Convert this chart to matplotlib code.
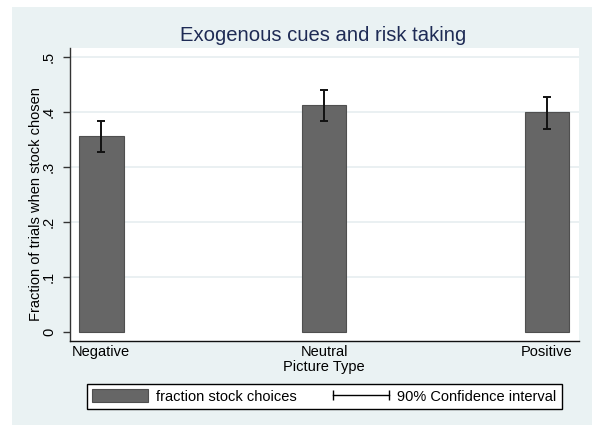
import matplotlib
matplotlib.use("Agg")
import matplotlib.pyplot as plt
from matplotlib.patches import Rectangle, Patch
from matplotlib.lines import Line2D
from matplotlib.legend_handler import HandlerLine2D

categories = ["Negative", "Neutral", "Positive"]
fraction_stock = [0.356, 0.4126, 0.4004]
ci_low = [0.328, 0.384, 0.370]
ci_high = [0.385, 0.4405, 0.428]
yticks = [0, 0.1, 0.2, 0.3, 0.4, 0.5]
ytick_labels = ["0", ".1", ".2", ".3", ".4", ".5"]

plt.rcParams['font.family'] = ['Liberation Sans', 'DejaVu Sans']

W, H = 592, 425
fig = plt.figure(figsize=(W / 100, H / 100), dpi=100, facecolor="white")
panel_color = "#EAF2F3"
fig.patches.append(Rectangle((12 / W, 0), 1 - 12 / W, 1 - 7 / H,
                             transform=fig.transFigure, facecolor=panel_color,
                             edgecolor="none", zorder=-10))

ax = fig.add_axes([70 / W, 1 - 341 / H, (579 - 70) / W, (341 - 48) / H])
ax.set_facecolor("white")

x = list(range(1, len(categories) + 1))
ax.bar(x, fraction_stock, width=0.2, color="#666666", edgecolor="#4f4f4f",
       linewidth=0.8, zorder=2)
yerr = [[m - lo for m, lo in zip(fraction_stock, ci_low)],
        [hi - m for m, hi in zip(fraction_stock, ci_high)]]
ax.errorbar(x, fraction_stock, yerr=yerr, fmt="none", ecolor="#111111",
            elinewidth=1.4, capsize=2.7, capthick=1.4, zorder=3)

ax.set_xlim(0.8596, 3.1436)
ax.set_ylim(-0.0164, 0.517)
ax.set_yticks(yticks)
ax.set_yticklabels(ytick_labels, rotation=90, va="center")
ax.set_xticks(x)
ax.set_xticklabels(categories)
ax.tick_params(axis="y", length=5, width=1, pad=5, labelsize=10.5, color="#333333")
ax.tick_params(axis="x", length=0, pad=3, labelsize=10.5)
for yv in yticks[1:]:
    ax.axhline(yv, color="#E6EEF0", linewidth=1.2, zorder=0)

for s in ["top", "right"]:
    ax.spines[s].set_visible(False)
ax.spines["left"].set_color("#333333")
ax.spines["bottom"].set_color("#111111")
ax.spines["left"].set_linewidth(1.0)
ax.spines["bottom"].set_linewidth(1.0)

fig.text(323.5 / W, 1 - 41 / H, "Exogenous cues and risk taking", ha="center",
         va="baseline", fontsize=14.6, color="#1E2B55")
fig.text(323.5 / W, 1 - 370.5 / H, "Picture Type", ha="center", va="baseline",
         fontsize=10.5)
fig.text(36 / W, 1 - 204 / H, "Fraction of trials when stock chosen", ha="center",
         va="center", rotation=90, fontsize=10.5)

bar_handle = Patch(facecolor="#666666", edgecolor="#4f4f4f", linewidth=0.8)
ci_handle = Line2D([], [], color="black", linewidth=1.0, marker="|",
                   markersize=7, markeredgewidth=1.0)
leg = fig.legend([bar_handle, ci_handle],
                 ["fraction stock choices", "90% Confidence interval"],
                 ncol=2, loc="center",
                 bbox_to_anchor=(86.7 / W, 1 - 410.3 / H, 475 / W, 27.3 / H),
                 mode="expand", fontsize=10.5, handlelength=3.85, handleheight=1.0,
                 handletextpad=0.55, columnspacing=1.8, borderpad=0.35,
                 borderaxespad=0, numpoints=2, fancybox=False, framealpha=1,
                 edgecolor="black",
                 handler_map={ci_handle: HandlerLine2D(marker_pad=0)})
leg.get_frame().set_linewidth(1.0)

fig.savefig("out.png", dpi=100, facecolor=fig.get_facecolor())
